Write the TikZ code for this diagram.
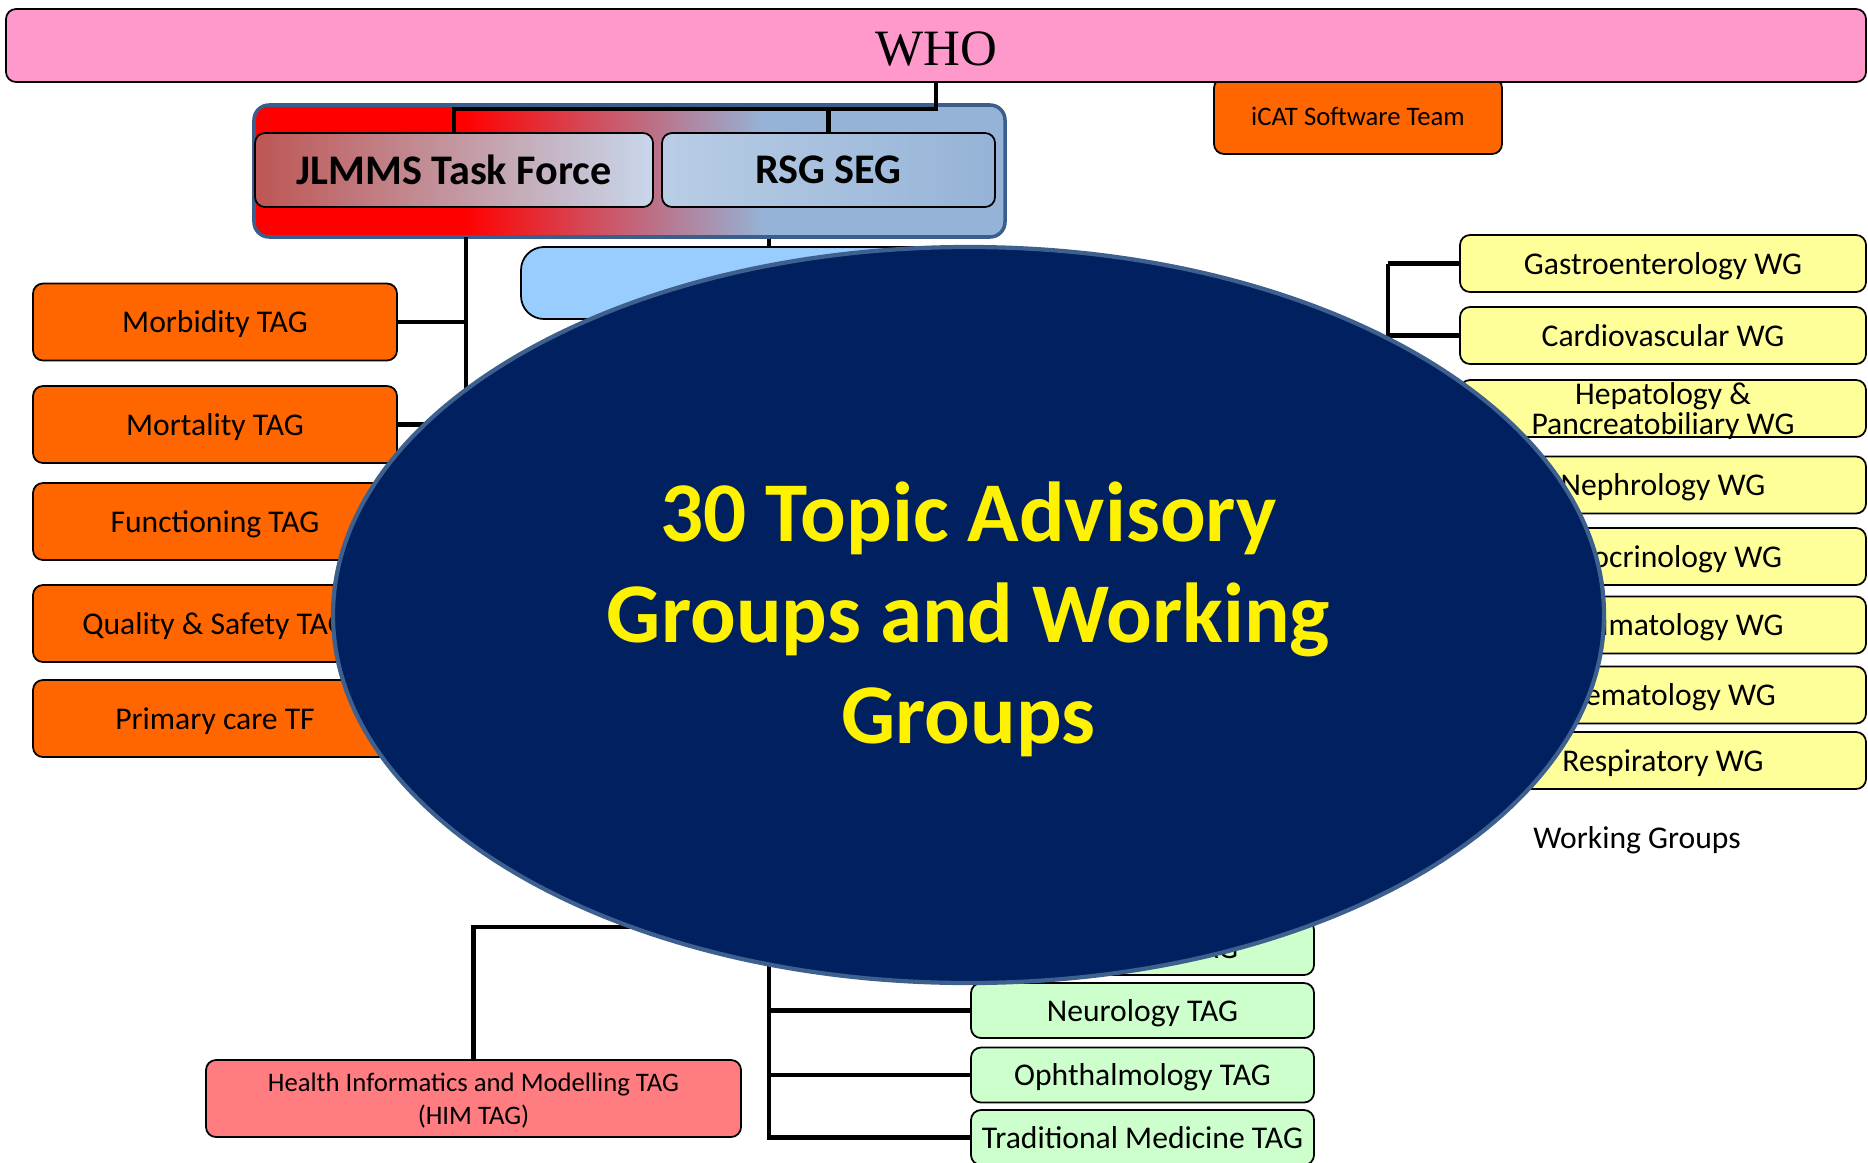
\documentclass[tikz,border=0pt]{standalone}
\usepackage{fontspec}
\setmainfont{Carlito}
\newfontfamily\whofont{Liberation Serif}
\usepackage{tikz}
\usetikzlibrary{shapes.geometric}

\definecolor{whopink}{RGB}{255,153,204}
\definecolor{tagorange}{RGB}{255,102,0}
\definecolor{wgyellow}{RGB}{255,255,153}
\definecolor{taggreen}{RGB}{204,255,204}
\definecolor{himred}{RGB}{255,124,128}
\definecolor{hubblue}{RGB}{153,204,255}
\definecolor{steel}{RGB}{149,179,215}
\definecolor{frameblue}{RGB}{59,94,140}
\definecolor{navy}{RGB}{0,32,96}
\definecolor{cloudedge}{RGB}{62,96,142}
\definecolor{jlred}{RGB}{190,86,84}
\definecolor{jlblue}{RGB}{200,215,236}
\definecolor{rsgblue}{RGB}{185,205,229}

\pgfdeclarehorizontalshading{taskforce}{100bp}{color(0bp)=(red); color(39bp)=(red); color(59bp)=(steel); color(100bp)=(steel)}

\begin{document}
\begin{tikzpicture}[
	box/.style={draw, line width=0.5pt, rounded corners=0.1cm, inner sep=0pt, text depth=0pt, align=center},
	tag/.style={box, fill=tagorange, minimum width=3.64cm, minimum height=0.77cm, font=\fontsize{9}{10}\selectfont},
	wg/.style={box, fill=wgyellow, minimum width=4.06cm, minimum height=0.57cm, font=\fontsize{9}{8.6}\selectfont},
	gtag/.style={box, fill=taggreen, minimum width=3.43cm, minimum height=0.55cm, font=\fontsize{9}{10}\selectfont},
	link/.style={line width=1.3pt}]
	\useasboundingbox (0,0) rectangle (18.68,11.62);

	%TOP
	\node[box, fill=tagorange, minimum width=2.88cm, minimum height=0.76cm, font=\fontsize{7.6}{9}\selectfont] (icat) at (13.58,10.46) {iCAT Software Team};
	\node[box, fill=whopink, minimum width=18.6cm, minimum height=0.73cm, text height=11.6pt, font=\whofont\fontsize{14.5}{16}\selectfont] (who) at (9.36,11.165) {WHO};
	\node[draw=frameblue, line width=1pt, rounded corners=0.15cm, shade, shading=taskforce, minimum width=7.51cm, minimum height=1.32cm] (tfgroup) at (6.295,9.91) {};
	\node[box, left color=jlred, right color=jlblue, minimum width=3.98cm, minimum height=0.74cm, font=\bfseries\fontsize{12}{13}\selectfont] (jlmms) at (4.54,9.92) {JLMMS Task Force};
	\node[box, left color=rsgblue, right color=steel, minimum width=3.33cm, minimum height=0.74cm, font=\bfseries\fontsize{12}{13}\selectfont] (rsg) at (8.285,9.92) {RSG SEG};
	\draw[link] (who.south) -- ++(0,-0.26) coordinate (tfbar) -| (jlmms.north);
	\draw[link] (tfbar) -| (rsg.north);
	%
	\node[draw, line width=0.5pt, fill=hubblue, rounded corners=0.23cm, minimum width=4.96cm, minimum height=0.72cm] (hub) at (7.69,8.79) {};
	\draw[link] (tfgroup.south -| hub.north) -- (hub.north);

	%LEFT TAGS
	\node[tag] (morb) at (2.15,8.40) {Morbidity TAG};
	\node[tag] (mort) at (2.15,7.375) {Mortality TAG};
	\node[tag] (func) at (2.15,6.405) {Functioning TAG};
	\node[tag] (qual) at (2.15,5.385) {Quality \& Safety TAG};
	\node[tag] (prim) at (2.15,4.435) {Primary care TF};
	\coordinate (tfspine) at (4.66,9.25);
	\foreach \n in {morb,mort,func,qual,prim}
		\draw[link] (tfspine) |- (\n.east);

	%BOTTOM TAGS
	\node[box, fill=himred, minimum width=5.35cm, minimum height=0.77cm, font=\fontsize{7.6}{9.3}\selectfont] (him) at (4.735,0.635) {Health Informatics and Modelling TAG\\(HIM TAG)};
	\coordinate (himjoin) at (7.69,2.35);
	\draw[link] (him.north) |- (himjoin);
	\node[gtag] (gtop) at (11.425,2.145) {\phantom{Neurology }TAG};
	\node[gtag] (neuro) at (11.425,1.515) {Neurology TAG};
	\node[gtag] (ophth) at (11.425,0.87) {Ophthalmology TAG};
	\node[gtag] (trad) at (11.425,0.245) {Traditional Medicine TAG};
	\foreach \n in {gtop,neuro,ophth,trad}
		\draw[link] (hub.south) |- (\n.west);

	%WORKING GROUPS
	\node[wg] (gastro) at (16.63,8.985) {Gastroenterology WG};
	\node[wg] (cardio) at (16.63,8.265) {Cardiovascular WG};
	\node[wg] (hepa) at (16.63,7.535) {Hepatology \&\\Pancreatobiliary WG};
	\node[wg] (neph) at (16.63,6.77) {Nephrology WG};
	\node[wg] (endo) at (16.63,6.055) {Endocrinology WG};
	\node[wg] (rheum) at (16.63,5.37) {Rheumatology WG};
	\node[wg] (haem) at (16.63,4.67) {Haematology WG};
	\node[wg] (resp) at (16.63,4.015) {Respiratory WG};
	\node[font=\fontsize{9}{10}\selectfont, text depth=0pt] (wglabel) at (16.37,3.24) {Working Groups};
	\coordinate (wgspine) at (13.88,8.985);
	\draw[link] (gastro.west) -- (wgspine);
	\foreach \n in {cardio,hepa,neph,endo,rheum,haem,resp}
		\draw[link] (wgspine) |- (\n.west);

	%OVERLAY
	\node[ellipse, draw=cloudedge, line width=1.2pt, fill=navy, minimum width=12.71cm, minimum height=7.36cm, inner sep=0pt, align=center, text=yellow, text depth=1.5pt, font=\bfseries\fontsize{24.2}{28.7}\selectfont] (cloud) at (9.685,5.47) {30 Topic Advisory\\Groups and Working\\Groups};
\end{tikzpicture}
\end{document}
